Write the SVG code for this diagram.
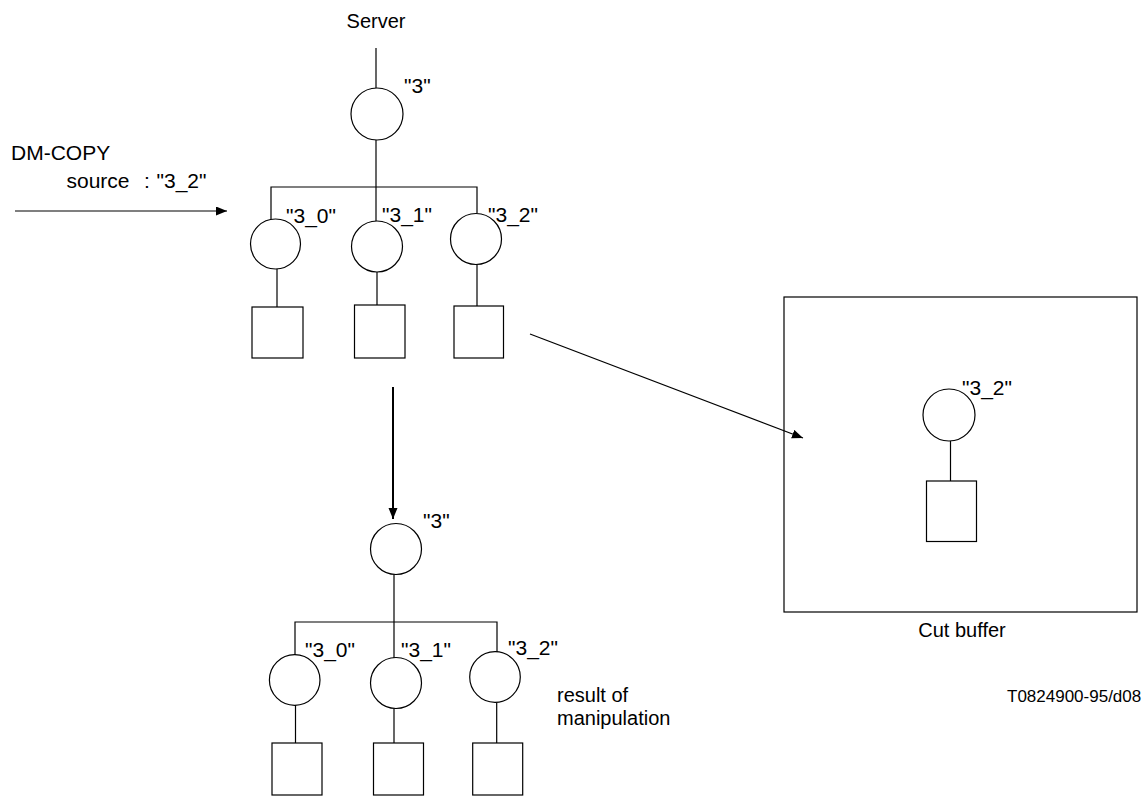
<svg xmlns="http://www.w3.org/2000/svg" width="1145" height="805" viewBox="0 0 1145 805">
<style>
.s{fill:none;stroke:#000;stroke-width:1.2}
.t{font-family:"Liberation Sans",Arial,sans-serif;font-size:20px;fill:#000}
.q{font-size:21px}
.sm{font-size:17px}
.c{stroke:#000;stroke-width:1.2;fill:none}
</style>
<defs>
<marker id="ah" markerUnits="userSpaceOnUse" markerWidth="12" markerHeight="10" refX="11" refY="4.5" orient="auto">
<path d="M0,0 L11,4.5 L0,9 Z" fill="#000"/>
</marker>
</defs>
<rect width="1145" height="805" fill="#fff"/>

<text class="t" x="376" y="28" text-anchor="middle">Server</text>
<text class="t q" x="11" y="160">DM-COPY</text>
<text class="t q" x="66.5" y="188">source</text>
<text class="t q" x="144" y="188">:</text>
<text class="t q" x="156.5" y="188">"3_2"</text>

<g id="top-tree">
<line class="s" x1="376" y1="48" x2="376" y2="88"/>
<g id="n3"><circle class="s" cx="377" cy="114" r="26"/><text class="t q" x="404" y="93">"3"</text></g>
<line class="s" x1="376" y1="140" x2="376" y2="187"/>
<polyline class="s" points="271,219 271,187 477,187 477,213"/>
<line class="s" x1="376" y1="187" x2="376" y2="221"/>
<g id="n3_0"><circle class="s" cx="275.5" cy="244" r="25"/><text class="t q" x="286" y="223">"3_0"</text>
<line class="s" x1="277" y1="269" x2="277" y2="307"/><rect class="s" x="252" y="307" width="51" height="51"/></g>
<g id="n3_1"><circle class="s" cx="377" cy="246.5" r="25.5"/><text class="t q" x="382" y="222">"3_1"</text>
<line class="s" x1="377" y1="272" x2="377" y2="305"/><rect class="s" x="354.5" y="305" width="50.5" height="53"/></g>
<g id="n3_2"><circle class="s" cx="476" cy="239" r="25.5"/><text class="t q" x="488" y="222">"3_2"</text>
<line class="s" x1="477" y1="264.5" x2="477" y2="306"/><rect class="s" x="454" y="306" width="49.5" height="52"/></g>
</g>

<g id="cut-buffer">
<rect class="s" x="784" y="297" width="353" height="315"/>
<circle class="s" cx="949" cy="415" r="26"/>
<text class="t q" x="962" y="395">"3_2"</text>
<line class="s" x1="950.5" y1="441" x2="950.5" y2="481"/>
<rect class="s" x="926.5" y="481" width="50" height="60.5"/>
<text class="t" x="962" y="637" text-anchor="middle">Cut buffer</text>
</g>

<g id="result-tree">
<g id="r3"><circle class="s" cx="396" cy="549" r="25.5"/><text class="t q" x="423" y="528">"3"</text></g>
<line class="s" x1="394" y1="574.5" x2="394" y2="622"/>
<polyline class="s" points="295,655 295,622 497,622 497,652"/>
<line class="s" x1="394" y1="622" x2="394" y2="658"/>
<g id="r3_0"><circle class="s" cx="294.7" cy="680" r="25.3"/><text class="t q" x="305" y="657">"3_0"</text>
<line class="s" x1="295.5" y1="705" x2="295.5" y2="743"/><rect class="s" x="272" y="743" width="50" height="52"/></g>
<g id="r3_1"><circle class="s" cx="396" cy="683" r="25.5"/><text class="t q" x="401" y="657">"3_1"</text>
<line class="s" x1="394" y1="708.5" x2="394" y2="743"/><rect class="s" x="373.5" y="743" width="50" height="52"/></g>
<g id="r3_2"><circle class="s" cx="495" cy="677" r="25.3"/><text class="t q" x="508" y="655">"3_2"</text>
<line class="s" x1="496.7" y1="702.5" x2="496.7" y2="743"/><rect class="s" x="472.7" y="743" width="50" height="52"/></g>
<text class="t" x="557" y="702">result of</text>
<text class="t" x="557" y="725">manipulation</text>
</g>

<text class="t sm" x="1007" y="702">T0824900-95/d08</text>

<g id="connectors">
<line class="c" x1="15" y1="211" x2="227" y2="211" marker-end="url(#ah)"/>
<line class="c" x1="393" y1="387" x2="393" y2="519" style="stroke-width:2" marker-end="url(#ah)"/>
<line class="c" x1="530" y1="334" x2="803" y2="438" marker-end="url(#ah)"/>
</g>
</svg>
